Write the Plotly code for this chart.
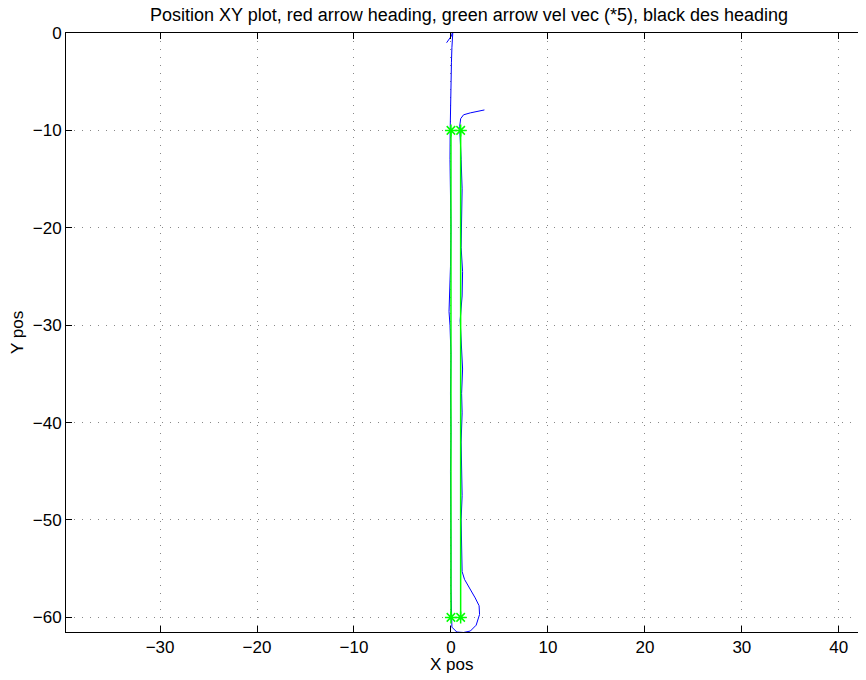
import plotly.graph_objects as go

# Blue: actual position track
pos_x = [-0.45, -0.2, 0.05, 0.2, 0.15, 0.1, 0.05, 0.0, -0.05, -0.08, -0.1, -0.05, 0.0, -0.05,
         -0.15, -0.2, -0.1, 0.0, -0.05, 0.0, -0.05, 0.0, 0.0, 0.0, 0.03, 0.1, 0.6, 1.3, 2.0,
         2.6, 2.95, 2.9, 2.5, 1.9, 1.4, 1.15, 1.1, 1.05, 1.15, 1.1, 1.05, 1.15, 1.1, 1.2, 1.05,
         0.95, 1.15, 1.2, 1.05, 1.1, 1.15, 1.05, 0.95, 0.9, 1.0, 1.3, 2.0, 2.8, 3.45]
pos_y = [-1.0, -0.7, -0.3, 0.2, -0.3, -1.5, -3.0, -5.0, -8.0, -10.0, -13.0, -16.0, -20.0, -24.0,
         -27.0, -28.6, -30.0, -33.0, -37.0, -41.0, -45.0, -49.0, -53.0, -57.0, -60.0, -61.0,
         -61.5, -61.55, -61.4, -60.8, -59.7, -58.8, -58.0, -57.0, -56.1, -55.3, -53.0, -50.0,
         -47.5, -45.0, -42.0, -39.0, -37.0, -34.5, -32.0, -29.5, -27.0, -24.5, -22.0, -19.0,
         -16.0, -13.0, -11.0, -9.6, -8.8, -8.4, -8.2, -8.05, -7.9]

# Green: waypoint legs
leg1_x = [0, 0]
leg1_y = [-10, -60]
leg2_x = [1, 1]
leg2_y = [-10, -60]
wp_x = [0, 1, 0, 1]
wp_y = [-10, -10, -60, -60]

x_ticks = [-30, -20, -10, 0, 10, 20, 30, 40]
y_ticks = [0, -10, -20, -30, -40, -50, -60]

font = "Liberation Sans, Arial, sans-serif"
FS = 17
OFF = 8  # page body margin
W, H = 866 - OFF, 680 - OFF

fig = go.Figure()
fig.add_trace(go.Scatter(x=pos_x, y=pos_y, mode="lines",
                         line=dict(color="#0000FF", width=1), showlegend=False))
fig.add_trace(go.Scatter(x=leg1_x, y=leg1_y, mode="lines",
                         line=dict(color="#00FF00", width=1.5), showlegend=False))
fig.add_trace(go.Scatter(x=leg2_x, y=leg2_y, mode="lines",
                         line=dict(color="#00FF00", width=1.5), showlegend=False))
fig.add_trace(go.Scatter(x=wp_x, y=wp_y, mode="markers",
                         marker=dict(symbol="asterisk-open", size=10, color="#00FF00",
                                     line=dict(color="#00FF00", width=1.5)),
                         showlegend=False))

axis_common = dict(showline=True, linecolor="black", linewidth=1, mirror="ticks",
                   ticks="inside", ticklen=6, tickcolor="black", automargin=False,
                   showgrid=True, gridcolor="#888888", griddash="1px,7px", gridwidth=1,
                   zeroline=False, tickfont=dict(family=font, size=FS, color="black"))

fig.update_xaxes(range=[-39.7, 42.7], tickvals=x_ticks, **axis_common)
fig.update_yaxes(range=[-61.5, 0], tickvals=y_ticks, **axis_common)

fig.update_layout(
    width=W, height=H,
    margin=dict(l=66 - OFF, r=W - (865 - OFF), t=33 - OFF, b=H - (632 - OFF)),
    paper_bgcolor="white", plot_bgcolor="white",
    font=dict(family=font, size=FS, color="black"),
    title=dict(text="Position XY plot, red arrow heading, green arrow vel vec (*5), black des heading",
               x=(469 - OFF) / W, xanchor="center", y=1 - 6.8 / H, yanchor="middle",
               font=dict(family=font, size=18, color="black")),
    annotations=[
        dict(text="X pos", xref="paper", yref="paper", x=(451 - 66) / 799, y=-(664 - 632) / 599,
             xanchor="center", yanchor="middle", showarrow=False,
             font=dict(family=font, size=FS, color="black")),
        dict(text="Y pos", xref="paper", yref="paper", x=-(66 - 17.5) / 799, y=0.5,
             xanchor="center", yanchor="middle", textangle=-90, showarrow=False,
             font=dict(family=font, size=FS, color="black")),
    ],
)

fig.write_html("out.html")
